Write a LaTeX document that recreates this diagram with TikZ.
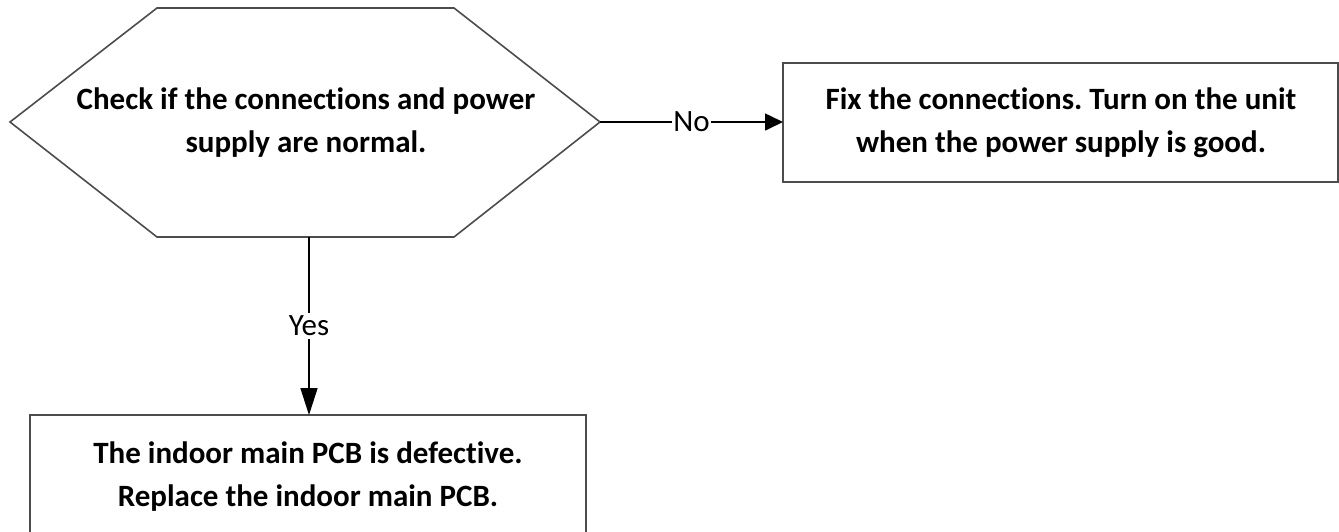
\documentclass[tikz,border=0pt]{standalone}
\usepackage{fontspec}
\setmainfont[Ligatures=NoCommon]{Carlito}
\frenchspacing
\usetikzlibrary{arrows.meta}
\begin{document}
\begin{tikzpicture}[x=1pt,y=-1pt,
  shapeline/.style={draw=black!70, line width=1.6pt},
  flow/.style={draw=black, line width=1.6pt, -{Triangle[length=18pt,width=17pt]}},
  boxtext/.style={font=\fontsize{31}{43}\selectfont\bfseries, align=center},
  lbl/.style={font=\fontsize{31}{36}\selectfont, fill=white, inner xsep=1pt, inner ysep=3pt}]
\useasboundingbox (0,0) rectangle (1339,531);
% decision hexagon
\coordinate (hL) at (10,122);
\coordinate (hR) at (600,122);
\draw[shapeline, line join=miter] (hL) -- (157,8) -- (454,8) -- (hR) -- (454,237) -- (157,237) -- cycle;
\node[boxtext] (hex) at (306,123) {Check if the connections and power\\supply are normal.};
\coordinate (hB) at (309,237);
% outcome boxes
\draw[shapeline] (783,63) rectangle (1338,182);
\node[boxtext] (fix) at (1061,123) {Fix the connections. Turn on the unit\\when the power supply is good.};
\coordinate (fixL) at (783,122);
\draw[shapeline] (30,415) rectangle (586,560);
\node[boxtext] (pcb) at (308,477) {The indoor main PCB is defective.\\Replace the indoor main PCB.};
\coordinate (pcbT) at (309,415);
% connectors
\draw[flow] (hR) -- node[lbl] {No} (fixL);
\draw[flow, -{Triangle[length=27pt,width=17pt]}] (hB) -- node[lbl, pos=0.5] {Yes} (pcbT);
\end{tikzpicture}
\end{document}
